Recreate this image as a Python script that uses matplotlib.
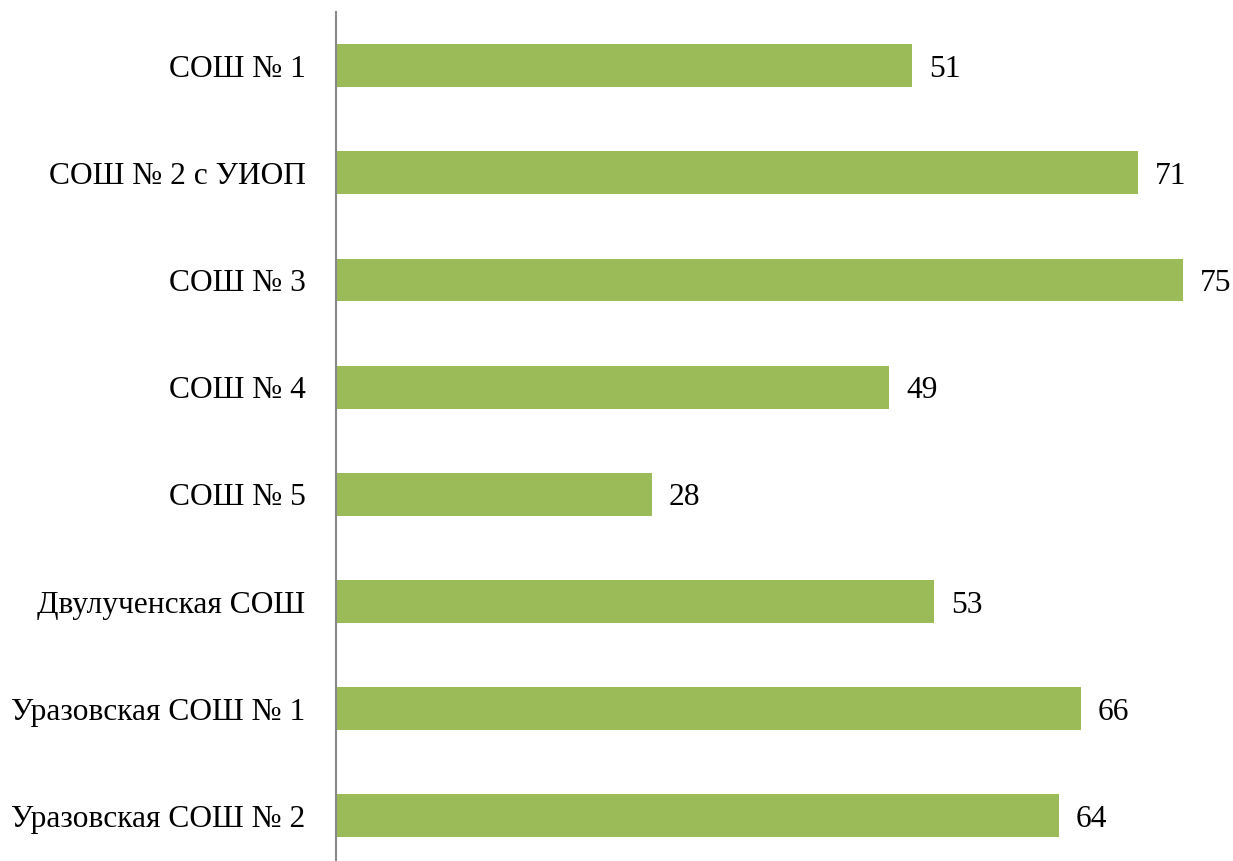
import matplotlib.pyplot as plt

# Data
schools = [
    "СОШ № 1",
    "СОШ № 2 с УИОП",
    "СОШ № 3",
    "СОШ № 4",
    "СОШ № 5",
    "Двулученская СОШ",
    "Уразовская СОШ № 1",
    "Уразовская СОШ № 2",
]
values = [51, 71, 75, 49, 28, 53, 66, 64]

plt.rcParams['font.family'] = ['Liberation Serif', 'DejaVu Serif']

fig = plt.figure(figsize=(12.33, 8.61), dpi=100)
# axes placed so the value axis starts at x=336 px
ax = fig.add_axes([336 / 1233, -8.5 / 861, 1 - 336 / 1233, (861 - 12 + 8.5) / 861])

ypos = list(range(len(schools)))
ax.barh(ypos, values, height=0.4, color="#9BBB59")

for y, v in zip(ypos, values):
    ax.text(v + 1.5, y, str(v), va="center_baseline", ha="left", fontsize=22.7)

ax.set_yticks(ypos)
ax.set_yticklabels(schools, fontsize=22.7, va="center_baseline")
ax.set_ylim(len(schools) - 0.5, -0.5)
ax.set_xlim(0, 897 / 11.29)
ax.tick_params(axis="y", length=0, pad=22)
ax.set_xticks([])

for side in ["top", "right", "bottom"]:
    ax.spines[side].set_visible(False)
ax.spines["left"].set_color("#888888")
ax.spines["left"].set_linewidth(1.5)

fig.savefig("out.png", dpi=100)
